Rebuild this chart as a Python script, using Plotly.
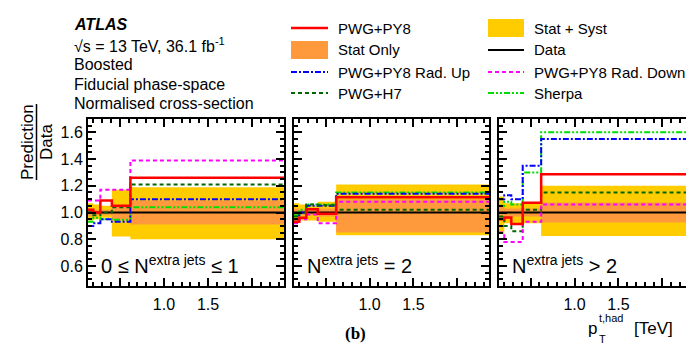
import plotly.graph_objects as go

W, H = 694, 345

# ---------------- data ----------------
edges = [0.14, 0.20, 0.28, 0.41, 0.62, 2.36]   # p_T^{t,had} bin edges [TeV]
x_range = [0.14, 2.36]

panel_labels = ["0 ≤ N<sup>extra jets</sup> ≤ 1", "N<sup>extra jets</sup> = 2", "N<sup>extra jets</sup> > 2"]

# panel 1: 0 <= N <= 1
p1_pwgpy8 = [1.02, 1.00, 1.09, 1.05, 1.26]
p1_raddown = [1.09, 1.09, 1.17, 1.17, 1.39]
p1_h7 = [1.00, 0.98, 1.00, 1.04, 1.21]
p1_radup = [0.90, 0.92, 0.95, 0.93, 1.10]
p1_sherpa = [0.93, 0.96, 0.95, 0.945, 1.04]
p1_tot_up = [1.07, 1.06, 1.05, 1.17, 1.19]
p1_tot_dn = [0.94, 0.95, 0.96, 0.82, 0.80]
p1_stat_up = [1.03, 1.02, 1.02, 1.05, 1.09]
p1_stat_dn = [0.97, 0.98, 0.98, 0.94, 0.91]

# panel 2: N = 2
p2_pwgpy8 = [0.93, 0.96, 1.025, 0.99, 1.115]
p2_raddown = [0.92, 0.95, 0.985, 0.92, 1.08]
p2_h7 = [0.97, 1.00, 1.06, 1.055, 1.02]
p2_radup = [0.95, 1.00, 1.05, 1.05, 1.14]
p2_sherpa = [0.98, 1.02, 1.06, 1.06, 1.15]
p2_tot_up = [1.07, 1.06, 1.05, 1.08, 1.21]
p2_tot_dn = [0.93, 0.94, 0.94, 0.93, 0.83]
p2_stat_up = [1.03, 1.02, 1.02, 1.03, 1.10]
p2_stat_dn = [0.97, 0.98, 0.98, 0.97, 0.85]

# panel 3: N > 2
p3_pwgpy8 = [0.95, 0.963, 0.914, 1.074, 1.287]
p3_raddown = [0.85, 0.78, 0.78, 0.93, 1.06]
p3_h7 = [0.97, 0.90, 0.86, 1.02, 1.15]
p3_radup = [1.10, 1.13, 1.10, 1.35, 1.55]
p3_sherpa = [1.05, 1.08, 1.06, 1.30, 1.60]
p3_tot_up = [1.12, 1.07, 1.07, 1.07, 1.20]
p3_tot_dn = [0.84, 0.92, 0.92, 0.92, 0.825]
p3_stat_up = [1.05, 1.03, 1.03, 1.03, 1.075]
p3_stat_dn = [0.95, 0.97, 0.97, 0.97, 0.925]

data_ratio = [1.0, 1.0, 1.0, 1.0, 1.0]

panels = [
    dict(pwgpy8=p1_pwgpy8, raddown=p1_raddown, h7=p1_h7, radup=p1_radup, sherpa=p1_sherpa,
         tu=p1_tot_up, td=p1_tot_dn, su=p1_stat_up, sd=p1_stat_dn),
    dict(pwgpy8=p2_pwgpy8, raddown=p2_raddown, h7=p2_h7, radup=p2_radup, sherpa=p2_sherpa,
         tu=p2_tot_up, td=p2_tot_dn, su=p2_stat_up, sd=p2_stat_dn),
    dict(pwgpy8=p3_pwgpy8, raddown=p3_raddown, h7=p3_h7, radup=p3_radup, sherpa=p3_sherpa,
         tu=p3_tot_up, td=p3_tot_dn, su=p3_stat_up, sd=p3_stat_dn),
]

# ---------------- styles ----------------
YELLOW = "#FFCC00"
ORANGE = "#FF9A3C"
RED = "#FF0000"
BLUE = "#0000FF"
MAGENTA = "#FF00FF"
DKGREEN = "#006600"
GREEN = "#00DD00"
FONT = "Liberation Sans, Arial, sans-serif"

styles = {
    "radup": dict(color=BLUE, dash="6px,2px,2px,2px", width=2),
    "raddown": dict(color=MAGENTA, dash="4px,3px", width=2),
    "h7": dict(color=DKGREEN, dash="4px,3px", width=2),
    "sherpa": dict(color=GREEN, dash="6px,2px,2px,2px,2px,2px", width=2),
    "pwgpy8": dict(color=RED, dash="solid", width=2.5),
}


def px(x):
    return x / W


def py(y):
    return 1 - y / H


def step(v):
    return list(v) + [v[-1]]


fig = go.Figure()

domains = [[80, 276], [286, 481], [491, 686]]
y_top, y_bot = 111, 278

for i, p in enumerate(panels):
    xa = "x" if i == 0 else f"x{i+1}"
    ya = "y" if i == 0 else f"y{i+1}"
    fig.add_trace(go.Scatter(x=edges, y=step(p["tu"]), xaxis=xa, yaxis=ya, mode="lines",
                             line=dict(width=0, shape="hv", color=YELLOW), showlegend=False, hoverinfo="skip"))
    fig.add_trace(go.Scatter(x=edges, y=step(p["td"]), xaxis=xa, yaxis=ya, mode="lines",
                             line=dict(width=0, shape="hv", color=YELLOW), fill="tonexty",
                             fillcolor=YELLOW, showlegend=False, hoverinfo="skip"))
    fig.add_trace(go.Scatter(x=edges, y=step(p["su"]), xaxis=xa, yaxis=ya, mode="lines",
                             line=dict(width=0, shape="hv", color=ORANGE), showlegend=False, hoverinfo="skip"))
    fig.add_trace(go.Scatter(x=edges, y=step(p["sd"]), xaxis=xa, yaxis=ya, mode="lines",
                             line=dict(width=0, shape="hv", color=ORANGE), fill="tonexty",
                             fillcolor=ORANGE, showlegend=False, hoverinfo="skip"))
    fig.add_trace(go.Scatter(x=edges, y=step(data_ratio), xaxis=xa, yaxis=ya, mode="lines",
                             line=dict(width=2, shape="hv", color="black"), showlegend=False))
    for key in ["sherpa", "radup", "h7", "raddown", "pwgpy8"]:
        s = styles[key]
        fig.add_trace(go.Scatter(x=edges, y=step(p[key]), xaxis=xa, yaxis=ya, mode="lines",
                                 line=dict(width=s["width"], shape="hv", color=s["color"], dash=s["dash"]),
                                 showlegend=False))

axis_common = dict(showline=True, linewidth=2, linecolor="black", mirror="ticks",
                   ticks="inside", tickcolor="black", showgrid=False, zeroline=False,
                   tickfont=dict(family=FONT, size=16, color="black"))

layout = dict(width=W, height=H, margin=dict(l=0, r=0, t=0, b=0),
              paper_bgcolor="white", plot_bgcolor="white", showlegend=False)

for i, (a, b) in enumerate(domains):
    xk = "xaxis" if i == 0 else f"xaxis{i+1}"
    yk = "yaxis" if i == 0 else f"yaxis{i+1}"
    xa = "x" if i == 0 else f"x{i+1}"
    ya = "y" if i == 0 else f"y{i+1}"
    layout[xk] = dict(axis_common, domain=[px(a), px(b)], range=x_range, anchor=ya,
                      tickvals=[0.5, 1.0, 1.5, 2.0], ticktext=["", "1.0", "1.5", ""],
                      ticklen=8, tickwidth=1.5, ticklabelstandoff=3,
                      minor=dict(dtick=0.1, tick0=0, ticklen=4, ticks="inside", tickcolor="black", tickwidth=1.5))
    layout[yk] = dict(axis_common, domain=[py(y_bot), py(y_top)], range=[0.45, 1.70], anchor=xa,
                      tickvals=[0.6, 0.8, 1.0, 1.2, 1.4, 1.6],
                      ticktext=["0.6", "0.8", "1.0", "1.2", "1.4", "1.6"] if i == 0 else [""] * 6,
                      ticklen=8, tickwidth=1.5,
                      minor=dict(dtick=0.05, tick0=0, ticklen=4, ticks="inside", tickcolor="black", tickwidth=1.5))

fig.update_layout(**layout)

ann = []
shapes = []


def text(x, y, t, size=15, anchor="left", **kw):
    ann.append(dict(x=px(x), y=py(y), xref="paper", yref="paper", text=t, showarrow=False,
                    xanchor=anchor, yanchor="middle", font=dict(family=FONT, size=size, color="black"), **kw))


# ATLAS label block
text(64, 17, "<b><i>ATLAS</i></b>", 16)
text(64, 37, "√s = 13 TeV, 36.1 fb<sup>-1</sup>", 16)
text(64, 57, "Boosted", 16)
text(64, 77, "Fiducial phase-space", 16)
text(64, 96, "Normalised cross-section", 16)

# legend
legend_rows = [20, 42, 64, 85]
col1 = [("PWG+PY8", "line", styles["pwgpy8"]), ("Stat Only", "box", ORANGE),
        ("PWG+PY8 Rad. Up", "line", styles["radup"]), ("PWG+H7", "line", styles["h7"])]
col2 = [("Stat + Syst", "box", YELLOW), ("Data", "line", dict(color="black", dash="solid", width=2)),
        ("PWG+PY8 Rad. Down", "line", styles["raddown"]), ("Sherpa", "line", styles["sherpa"])]
for (x0, x1, xt), col in [((283, 320, 328), col1), ((480, 516, 524), col2)]:
    for yrow, (lab, kind, st) in zip(legend_rows, col):
        if kind == "line":
            shapes.append(dict(type="line", xref="paper", yref="paper", x0=px(x0), x1=px(x1), y0=py(yrow), y1=py(yrow),
                               line=dict(color=st["color"], width=st["width"], dash=st["dash"])))
        else:
            shapes.append(dict(type="rect", xref="paper", yref="paper", x0=px(x0), x1=px(x1), y0=py(yrow - 9),
                               y1=py(yrow + 9), line=dict(width=0), fillcolor=st))
        text(xt, yrow, lab, 15)

# y-axis title as fraction
ann.append(dict(x=px(19), y=py(134), xref="paper", yref="paper", text="Prediction", showarrow=False,
                xanchor="center", yanchor="middle",
                textangle=-90, font=dict(family=FONT, size=17, color="black")))
ann.append(dict(x=px(38), y=py(134), xref="paper", yref="paper", text="Data", showarrow=False,
                xanchor="center", yanchor="middle",
                textangle=-90, font=dict(family=FONT, size=17, color="black")))
shapes.append(dict(type="line", xref="paper", yref="paper", x0=px(28.5), x1=px(28.5), y0=py(96), y1=py(172),
                   line=dict(color="black", width=1.5)))

# panel labels
for (a, b), lab in zip(domains, panel_labels):
    text(a + 11, 256, lab, 20)

# x axis title
text(578, 320, "p", 17)
text(589, 310, "t,had", 11)
text(589, 331, "T", 11)
text(624, 320, "[TeV]", 17)

# (b)
ann.append(dict(x=px(347), y=py(325), xref="paper", yref="paper", text="<b>(b)</b>", showarrow=False,
                xanchor="center", yanchor="middle",
                font=dict(family="Liberation Serif, Times New Roman, serif", size=17, color="black")))

fig.update_layout(annotations=ann, shapes=shapes)
fig.write_html("out.html")
